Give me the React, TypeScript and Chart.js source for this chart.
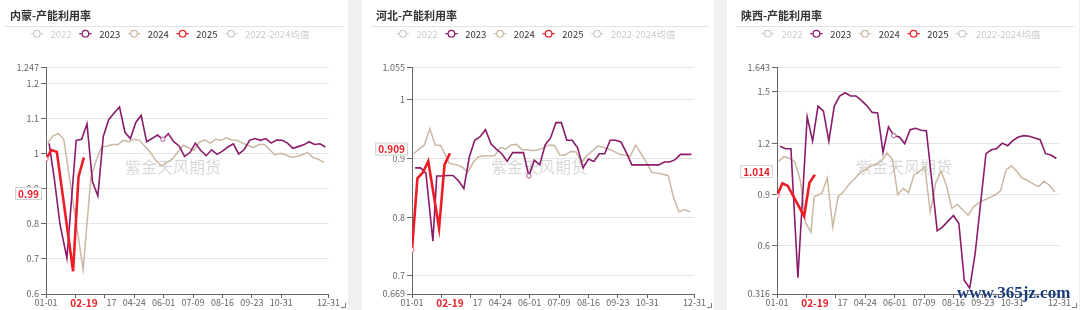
import React, { useEffect, useRef } from 'react';
import { Chart, registerables } from 'chart.js';

Chart.register(...registerables);

// ---------- data ----------
const PANEL_TITLES = ['内蒙-产能利用率', '河北-产能利用率', '陕西-产能利用率'];
const LEGEND_LABELS = ['2022', '2023', '2024', '2025', '2022-2024均值'];
const LEGEND_ACTIVE = [false, true, true, true, false];
const WATERMARK = '紫金天风期货';
const SITE_MARK = 'www.365jz.com';

// day-of-year positions (0 = 01-01, 365 = 12-31)
const DAYS_2023 = [4, 11, 18, 27, 32, 39, 46, 53, 60, 67, 74, 81, 88, 95, 102, 109, 116, 123, 130, 137, 144, 151, 158, 165, 172, 179, 186, 193, 200, 207, 214, 221, 228, 235, 242, 249, 256, 263, 270, 277, 284, 291, 298, 305, 312, 319, 326, 333, 340, 347, 354, 361];
const DAYS_2024 = [2, 9, 16, 23, 30, 37, 44, 48, 58, 65, 72, 79, 86, 93, 100, 107, 114, 121, 128, 135, 142, 149, 156, 163, 170, 177, 184, 191, 198, 205, 212, 219, 226, 233, 240, 247, 254, 261, 268, 275, 282, 289, 296, 303, 310, 317, 324, 331, 338, 345, 352, 359];
const DAYS_2025 = [0, 7, 14, 21, 28, 35, 42, 49];

const NM_2023 = [1.030, 0.925, 0.800, 0.703, null, 1.039, 1.042, 1.086, 0.921, 0.880, 1.050, 1.098, 1.117, 1.134, 1.062, 1.044, 1.090, 1.110, 1.035, 1.044, 1.054, 1.042, 1.058, 1.035, 1.023, 0.993, 1.004, 1.031, 1.010, 0.995, 1.012, 0.999, 1.008, 1.020, 1.029, 1.000, 1.012, 1.039, 1.044, 1.039, 1.044, 1.031, 1.040, 1.039, 1.031, 1.016, 1.021, 1.026, 1.035, 1.027, 1.029, 1.020];
const NM_2024 = [1.031, 1.052, 1.058, 1.042, null, null, null, 0.669, 0.933, 0.983, 1.020, 1.023, 1.027, 1.027, 1.039, 1.035, 1.042, 1.039, 1.021, 1.004, 0.981, 0.966, 0.975, 0.985, 1.004, 1.025, 1.018, 1.010, 1.033, 1.040, 1.031, 1.042, 1.039, 1.046, 1.040, 1.039, 1.031, 1.025, 1.018, 1.027, 1.027, 1.012, 0.997, 1.002, 0.997, 0.991, 0.993, 0.998, 1.004, 0.990, 0.985, 0.975];
const NM_2025 = [0.986, 1.011, 1.006, null, null, 0.665, 0.935, 0.990];

const HB_2023 = [0.884, 0.884, 0.875, 0.759, 0.870, 0.870, 0.871, 0.871, 0.862, 0.849, 0.902, 0.931, 0.937, 0.949, 0.925, 0.916, 0.908, 0.895, 0.910, 0.910, 0.910, 0.870, 0.897, 0.889, 0.923, 0.935, 0.961, 0.961, 0.931, 0.931, 0.918, 0.884, 0.899, 0.895, 0.908, 0.908, 0.931, 0.931, 0.928, 0.910, 0.889, 0.889, 0.889, 0.889, 0.889, 0.889, 0.894, 0.894, 0.898, 0.907, 0.907, 0.907];
const HB_2024 = [0.908, 0.916, 0.923, 0.951, 0.923, 0.922, 0.904, 0.892, 0.889, 0.885, 0.876, 0.893, 0.903, 0.904, 0.904, 0.905, 0.919, 0.916, 0.923, 0.924, 0.915, 0.915, 0.913, 0.915, 0.918, 0.923, 0.922, 0.906, 0.906, 0.912, 0.911, 0.893, 0.905, 0.913, 0.921, 0.919, 0.916, 0.912, 0.907, 0.906, 0.904, 0.923, 0.908, 0.893, 0.876, 0.875, 0.873, 0.871, 0.833, 0.809, 0.813, 0.809];
const HB_2025 = [0.744, 0.866, 0.876, 0.895, null, 0.781, 0.889, 0.909];

const SX_2023 = [1.181, 1.167, 1.167, 0.411, null, 1.354, 1.212, 1.417, 1.387, 1.212, 1.417, 1.476, 1.495, 1.476, 1.476, 1.450, 1.420, 1.380, 1.377, 1.146, 1.295, 1.244, 1.236, 1.197, 1.279, 1.287, 1.275, 1.273, null, 0.686, 0.709, 0.743, 0.776, 0.729, 0.395, 0.350, 0.552, null, 1.138, 1.161, 1.169, 1.200, 1.185, 1.216, 1.236, 1.244, 1.240, 1.230, 1.220, 1.138, 1.130, 1.110];
const SX_2024 = [1.093, 1.122, 1.110, 1.091, 0.984, 0.733, 0.678, 0.886, 0.906, 0.996, 0.709, 0.886, 0.916, 0.959, 0.990, 1.024, 1.043, 1.067, 1.073, 1.095, 1.142, 1.106, 0.898, 0.935, 0.910, 1.014, 1.034, 1.063, 0.798, 0.965, 1.038, 0.949, 0.817, 0.841, 0.808, 0.778, 0.827, 0.851, 0.867, 0.882, 0.896, 0.922, 1.043, 1.067, 1.034, 0.994, 0.981, 0.961, 0.945, 0.977, 0.953, 0.914];
const SX_2025 = [0.892, 0.965, 0.949, null, null, 0.772, 0.969, 1.014];

const NM_Y_TICKS = [0.6, 0.7, 0.8, 0.9, 1, 1.1, 1.2, 1.247];
const HB_Y_TICKS = [0.669, 0.7, 0.8, 0.9, 1, 1.055];
const SX_Y_TICKS = [0.316, 0.6, 0.9, 1.2, 1.5, 1.643];

const X_TICK_DAYS = [0, 38, 76, 114, 152, 190, 228, 266, 304, 365];
const X_TICK_LABELS = ['01-01', '02-08', '03-17', '04-24', '06-01', '07-09', '08-16', '09-23', '10-31', '12-31'];

const CURRENT_DAY = 49;
const CURRENT_LABEL = '02-19';
const LAST_LABELS = ['0.99', '0.909', '1.014'];
const LAST_LABEL_AT = [0.887, 0.916, 1.033];
const MARK_DAY_2023 = 151;

// ---------- style ----------
const C2023 = '#8a1a6a';
const C2024 = '#cbb8a2';
const C2025 = '#ee1c25';
const CGRAY = '#cccccc';
const FONT = "'Noto Sans CJK SC', 'Noto Sans', sans-serif";
const PANEL_W = 352;
const PANEL_H = 310;
const PANEL_LEFTS = [-4, 362, 727];

const PANELS = [
  { title: PANEL_TITLES[0], s23: NM_2023, s24: NM_2024, s25: NM_2025, ticks: NM_Y_TICKS, last: LAST_LABELS[0], lastAt: LAST_LABEL_AT[0] },
  { title: PANEL_TITLES[1], s23: HB_2023, s24: HB_2024, s25: HB_2025, ticks: HB_Y_TICKS, last: LAST_LABELS[1], lastAt: LAST_LABEL_AT[1] },
  { title: PANEL_TITLES[2], s23: SX_2023, s24: SX_2024, s25: SX_2025, ticks: SX_Y_TICKS, last: LAST_LABELS[2], lastAt: LAST_LABEL_AT[2] },
];

const decorPlugin = {
  id: 'decor',
  beforeDatasetsDraw(chart: any) {
    const ctx = chart.ctx;
    ctx.save();
    ctx.font = `16px ${FONT}`;
    ctx.fillStyle = 'rgba(0,0,0,0.16)';
    ctx.textAlign = 'center';
    ctx.textBaseline = 'middle';
    ctx.fillText(WATERMARK, 177, 167);
    ctx.restore();
  },
  afterDraw(chart: any, _args: any, opts: any) {
    const ctx = chart.ctx;
    const area = chart.chartArea;
    ctx.save();
    // title
    ctx.font = `bold 11px ${FONT}`;
    ctx.fillStyle = '#333';
    ctx.textAlign = 'left';
    ctx.textBaseline = 'middle';
    ctx.fillText(opts.title, 14, 15.5);
    // separator
    ctx.strokeStyle = '#e2e2e2';
    ctx.lineWidth = 1;
    ctx.beginPath();
    ctx.moveTo(9, 26.5);
    ctx.lineTo(347, 26.5);
    ctx.stroke();
    // legend
    const colors = [CGRAY, C2023, C2024, C2025, CGRAY];
    ctx.font = `9.5px ${FONT}`;
    const iconW = 12.5, gap = 7.5;
    const widths = LEGEND_LABELS.map((l) => ctx.measureText(l).width);
    const total = widths.reduce((a, w) => a + iconW + gap + w, 0) + gap * (LEGEND_LABELS.length - 1);
    let x = 174 - total / 2;
    const ly = 33.7;
    LEGEND_LABELS.forEach((l, i) => {
      const col = LEGEND_ACTIVE[i] ? colors[i] : CGRAY;
      ctx.strokeStyle = col;
      ctx.lineWidth = 1.2;
      ctx.beginPath();
      ctx.moveTo(x, ly);
      ctx.lineTo(x + iconW, ly);
      ctx.stroke();
      ctx.beginPath();
      ctx.arc(x + iconW / 2, ly, 3.3, 0, Math.PI * 2);
      ctx.fillStyle = '#fff';
      ctx.fill();
      ctx.stroke();
      ctx.fillStyle = LEGEND_ACTIVE[i] ? '#333' : CGRAY;
      ctx.textBaseline = 'middle';
      ctx.fillText(l, x + iconW + gap, ly + 0.5);
      x += iconW + gap + widths[i] + gap;
    });
    // y pointer label
    const yPix = chart.scales.y.getPixelForValue(opts.lastAt);
    ctx.font = `bold 10px ${FONT}`;
    const tw = ctx.measureText(opts.last).width;
    const bw = tw + 6, bh = 13;
    const bx = area.left - 4 - bw;
    ctx.fillStyle = '#fff';
    ctx.strokeStyle = '#d0d0d0';
    ctx.lineWidth = 1;
    ctx.fillRect(bx, yPix - bh / 2, bw, bh);
    ctx.strokeRect(bx + 0.5, yPix - bh / 2 + 0.5, bw - 1, bh - 1);
    ctx.fillStyle = C2025;
    ctx.textAlign = 'center';
    ctx.textBaseline = 'middle';
    ctx.fillText(opts.last, bx + bw / 2, yPix + 0.5);
    // x pointer label
    const xPix = chart.scales.x.getPixelForValue(CURRENT_DAY);
    ctx.fillStyle = '#fff';
    ctx.fillRect(xPix - 22, area.bottom + 4.5, 44, 12);
    ctx.fillStyle = C2025;
    ctx.fillText(CURRENT_LABEL, xPix, area.bottom + 9.5);
    // resize corner
    ctx.strokeStyle = '#777';
    ctx.beginPath();
    ctx.moveTo(349.5, 303);
    ctx.lineTo(349.5, 307.5);
    ctx.lineTo(345, 307.5);
    ctx.stroke();
    ctx.restore();
  },
};

function Panel({ cfg }: { cfg: any }) {
  const ref = useRef<HTMLCanvasElement>(null);
  useEffect(() => {
    const canvas = ref.current!;
    const mk = (days: number[], vals: any[]) => days.map((d, i) => ({ x: d, y: vals[i] }));
    const chart = new Chart(canvas, {
      type: 'line',
      data: {
        datasets: [
          {
            label: '2025',
            data: mk(DAYS_2025, cfg.s25),
            borderColor: C2025,
            borderWidth: 2.6,
            spanGaps: true,
            tension: 0,
            pointRadius: (c: any) => (c.dataIndex === 0 ? 2.2 : 0),
            pointBackgroundColor: '#fff',
            pointBorderColor: '#f06070',
            pointBorderWidth: 1,
          },
          {
            label: '2023',
            data: mk(DAYS_2023, cfg.s23),
            borderColor: C2023,
            borderWidth: 1.6,
            spanGaps: true,
            tension: 0,
            pointRadius: (c: any) => (DAYS_2023[c.dataIndex] === MARK_DAY_2023 ? 2.2 : 0),
            pointBackgroundColor: '#fff',
            pointBorderColor: '#b05a9a',
            pointBorderWidth: 1,
          },
          {
            label: '2024',
            data: mk(DAYS_2024, cfg.s24),
            borderColor: C2024,
            borderWidth: 1.5,
            spanGaps: true,
            tension: 0,
            pointRadius: 0,
          },
        ],
      },
      options: {
        animation: false,
        responsive: false,
        events: [],
        layout: { padding: { left: 0, right: 19.5, top: 67.5, bottom: 0 } },
        plugins: {
          legend: { display: false },
          tooltip: { enabled: false },
          title: { display: false },
          decor: { title: cfg.title, last: cfg.last, lastAt: cfg.lastAt },
        } as any,
        scales: {
          x: {
            type: 'linear',
            min: 0,
            max: 365,
            afterBuildTicks: (s: any) => {
              s.ticks = X_TICK_DAYS.map((v) => ({ value: v }));
            },
            afterFit: (s: any) => {
              s.height = 16;
            },
            ticks: {
              autoSkip: false,
              maxRotation: 0,
              minRotation: 0,
              padding: -1,
              color: '#666',
              font: { family: FONT, size: 9 },
              callback: (v: any) => X_TICK_LABELS[X_TICK_DAYS.indexOf(v)],
            },
            grid: { drawOnChartArea: false, drawTicks: true, tickLength: 4, tickColor: '#666' },
            border: { color: '#666', width: 1 },
          },
          y: {
            type: 'linear',
            min: cfg.ticks[0],
            max: cfg.ticks[cfg.ticks.length - 1],
            afterBuildTicks: (s: any) => {
              s.ticks = cfg.ticks.map((v: number) => ({ value: v }));
            },
            afterFit: (s: any) => {
              s.width = 50;
            },
            ticks: {
              autoSkip: false,
              padding: 2,
              color: '#666',
              font: { family: FONT, size: 9 },
              callback: (v: any) => String(v),
            },
            grid: { color: '#e4e4e4', lineWidth: 1, tickLength: 5, tickColor: '#666' },
            border: { color: '#666', width: 1 },
          },
        },
      } as any,
      plugins: [decorPlugin],
    });
    return () => chart.destroy();
  }, [cfg]);
  return <canvas ref={ref} width={PANEL_W} height={PANEL_H} style={{ width: PANEL_W, height: PANEL_H, display: 'block' }} />;
}

export default function App() {
  return (
    <div style={{ position: 'fixed', left: 0, top: 0, width: 1080, height: 310, background: '#f1f1f1', overflow: 'hidden' }}>
      {PANELS.map((cfg, i) => (
        <div key={i} style={{ position: 'absolute', left: PANEL_LEFTS[i], top: 0, width: PANEL_W, height: PANEL_H, background: '#fff' }}>
          <Panel cfg={cfg} />
        </div>
      ))}
      <div
        style={{
          position: 'absolute',
          left: 957,
          top: 284,
          font: "bold 17px 'Liberation Serif', serif",
          lineHeight: '17px',
          color: '#1b3b78',
          whiteSpace: 'nowrap',
          textShadow: '0 0 2px #fff',
        }}
      >
        {SITE_MARK}
      </div>
    </div>
  );
}
